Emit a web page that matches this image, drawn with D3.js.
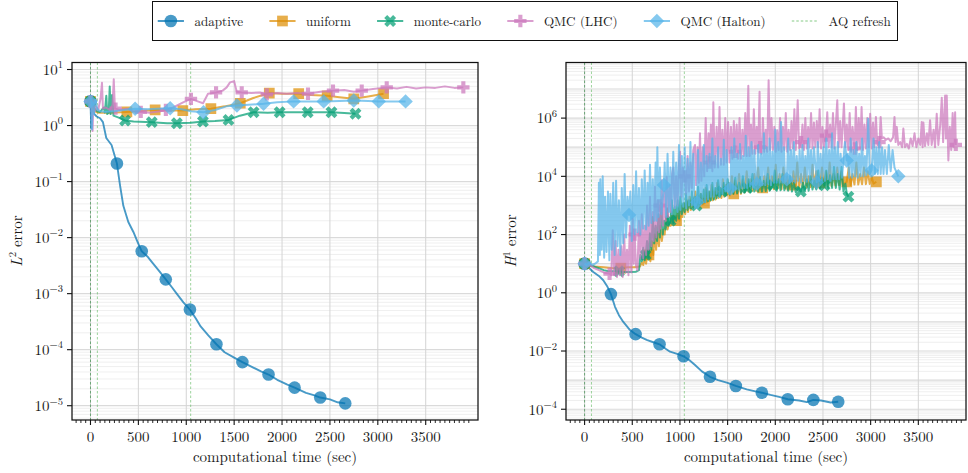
<!DOCTYPE html>
<html>
<head>
<meta charset="utf-8">
<script src="https://cdn.jsdelivr.net/npm/d3@7"></script>
<style>
  body { margin: 0; background: #fff; }
  svg { display: block; }
</style>
</head>
<body>
<svg id="chart" width="968" height="473"></svg>
<script>
// ---- categories ----
const methodNames = ["adaptive", "uniform", "monte-carlo", "QMC (LHC)", "QMC (Halton)"];
const refreshLabel = "AQ refresh";

// ---- tick labels ----
const timeTicks = [0, 500, 1000, 1500, 2000, 2500, 3000, 3500];
const l2TickExps = [-5, -4, -3, -2, -1, 0, 1];
const h1TickExps = [-4, -2, 0, 2, 4, 6];

// times (sec) at which the adaptive quadrature was refreshed
const refreshTimes = [0, 72, 1046];

// ---- adaptive ----
const adaptiveMarkTimes = [0, 276, 535, 786, 1038, 1315, 1586, 1859, 2131, 2399, 2660];
const adaptiveL2 = [[0,2.7],[8,0.9],[15,2.3],[40,1.6],[65,1.45],[100,1.35],[130,1.15],[165,0.6],[220,0.45],[276,0.21],[309,0.085],[343,0.037],[395,0.019],[448,0.0126],[490,0.0085],[535,0.0057],[600,0.0045],[650,0.0035],[720,0.0025],[786,0.0018],[850,0.0013],[900,0.001],[970,0.0007],[1038,0.00052],[1100,0.00036],[1150,0.00026],[1230,0.00018],[1315,0.000125],[1400,0.00009],[1500,0.000072],[1586,0.00006],[1700,0.000048],[1780,0.000041],[1859,0.000036],[1950,0.000029],[2050,0.000024],[2131,0.000021],[2250,0.000017],[2330,0.0000155],[2399,0.000014],[2500,0.000013],[2580,0.0000115],[2660,0.000011]];
const adaptiveH1 = [[0,10],[40,7.5],[91,5.2],[150,3.8],[196,2.7],[240,1.6],[276,0.9],[319,0.33],[360,0.17],[406,0.1],[470,0.055],[535,0.038],[600,0.029],[651,0.024],[720,0.02],[786,0.017],[850,0.012],[896,0.0095],[970,0.008],[1038,0.0066],[1100,0.0048],[1158,0.0033],[1230,0.002],[1315,0.0013],[1400,0.001],[1500,0.0008],[1586,0.00063],[1700,0.00048],[1780,0.00042],[1859,0.00037],[1950,0.00031],[2050,0.00026],[2131,0.00022],[2250,0.0002],[2330,0.000175],[2399,0.00021],[2480,0.0002],[2580,0.00017],[2660,0.00018]];

// ---- uniform ----
const uniformMarkTimes = [0, 380, 675, 964, 1257, 1564, 1867, 2174, 2471, 2749, 3060];
const uniformL2 = [[0,2.7],[10,3.2],[20,2.0],[30,2.9],[45,1.8],[60,1.75],[80,1.7],[200,1.7],[380,1.75],[500,1.8],[675,1.9],[800,1.85],[964,1.85],[1100,1.95],[1257,2.0],[1400,2.2],[1564,2.5],[1700,3.1],[1867,3.8],[2000,3.7],[2174,3.7],[2300,3.5],[2471,3.4],[2600,3.2],[2749,3.0],[2900,3.3],[3060,3.7]];
const uniformH1 = [[0,10],[40,9],[100,8],[200,7.5],[300,7],[380,7],[450,7.5],[520,7.5],[580,8],[600,11],[615,9],[630,15],[645,10],[660,25],[675,20],[690,12],[705,60],[720,20],[735,100],[750,30],[765,120],[780,40],[795,200],[810,60],[825,150],[840,100],[855,400],[870,150],[885,250],[900,200],[915,600],[930,250],[945,400],[964,300],[980,800],[995,300],[1010,1000],[1025,400],[1040,1200],[1055,500],[1070,1500],[1085,600],[1100,2000],[1115,700],[1130,1500],[1145,800],[1160,3000],[1175,900],[1190,2000],[1205,1000],[1220,2500],[1235,1100],[1257,1200],[1270,4000],[1285,1300],[1300,3000],[1315,1400],[1330,5000],[1345,1500],[1360,3000],[1375,1600],[1390,6000],[1405,1800],[1420,4000],[1435,1800],[1450,8000],[1465,2000],[1480,5000],[1495,2200],[1510,6000],[1525,2200],[1545,10000],[1564,2500],[1580,7000],[1600,2500],[1620,12000],[1640,2500],[1660,8000],[1680,2800],[1700,15000],[1720,3000],[1740,8000],[1760,3200],[1780,12000],[1800,3200],[1820,20000],[1840,3500],[1867,4000],[1885,10000],[1905,3500],[1925,20000],[1945,3500],[1965,10000],[1985,3600],[2005,25000],[2025,3800],[2045,12000],[2065,3600],[2085,20000],[2105,3800],[2125,10000],[2145,4000],[2174,5000],[2190,15000],[2210,4000],[2230,30000],[2250,4000],[2270,12000],[2290,4200],[2310,20000],[2330,4200],[2350,10000],[2370,4300],[2390,25000],[2410,4400],[2430,15000],[2450,4500],[2471,6000],[2490,20000],[2510,4500],[2530,15000],[2550,4600],[2570,30000],[2590,4700],[2610,12000],[2630,4800],[2650,20000],[2670,5000],[2690,15000],[2710,5000],[2749,6500],[2770,20000],[2790,5000],[2810,12000],[2830,5200],[2850,30000],[2870,5200],[2890,12000],[2910,5300],[2930,20000],[2950,5400],[2970,15000],[2990,5500],[3010,10000],[3030,5600],[3060,6500]];

// ---- monte-carlo ----
const mcMarkTimes = [0, 361, 640, 902, 1174, 1441, 1703, 1975, 2268, 2516, 2767];
const mcL2 = [[0,2.7],[20,2.4],[40,2.0],[70,1.8],[100,1.75],[140,2.1],[150,1.7],[165,3.4],[175,1.6],[190,1.7],[201,5.0],[210,1.6],[225,3.5],[240,1.5],[288,1.4],[361,1.23],[450,1.18],[640,1.15],[800,1.1],[902,1.1],[1050,1.12],[1174,1.18],[1300,1.2],[1441,1.26],[1560,1.5],[1703,1.73],[1850,1.7],[1975,1.73],[2100,1.72],[2268,1.73],[2400,1.72],[2516,1.73],[2650,1.68],[2767,1.62]];
const mcH1 = [[0,10],[50,9],[100,8],[150,7],[200,6],[250,5.5],[300,5.5],[361,5.5],[420,5.2],[480,5.2],[540,5.3],[570,6],[585,20],[600,12],[615,35],[630,13],[640,20],[655,60],[670,16],[685,110],[700,30],[715,400],[730,50],[745,200],[760,60],[775,500],[790,80],[805,1200],[820,100],[835,300],[850,150],[865,800],[880,200],[902,300],[915,1500],[930,250],[945,900],[960,300],[975,1500],[990,350],[1005,2000],[1020,500],[1035,1200],[1050,600],[1065,2500],[1080,700],[1095,1500],[1110,800],[1125,3000],[1140,900],[1155,2000],[1174,1000],[1190,4400],[1205,1100],[1220,2500],[1235,1200],[1250,3500],[1265,1300],[1280,5000],[1295,1400],[1310,3000],[1325,1500],[1340,6000],[1355,1600],[1370,4000],[1385,1800],[1400,7400],[1420,2000],[1441,3000],[1460,6000],[1480,2200],[1500,8000],[1520,2400],[1540,5000],[1560,2500],[1580,9000],[1600,2600],[1620,6000],[1640,2700],[1660,10000],[1680,2800],[1703,4000],[1720,8000],[1740,2800],[1760,12000],[1780,3000],[1800,6000],[1820,3000],[1840,9500],[1860,3000],[1880,7000],[1900,3100],[1920,12000],[1940,3200],[1975,5000],[1995,16000],[2015,3200],[2035,8000],[2055,3300],[2075,12000],[2095,3300],[2115,6000],[2135,3200],[2155,10000],[2175,3000],[2195,6000],[2215,2800],[2240,4000],[2268,3000],[2290,6000],[2310,3000],[2330,8000],[2350,3200],[2370,10000],[2390,3500],[2410,7000],[2430,3500],[2450,16000],[2470,3800],[2490,9000],[2516,4900],[2535,16000],[2555,4000],[2575,11000],[2595,4000],[2615,21000],[2635,4000],[2655,12000],[2675,3500],[2695,21000],[2715,3000],[2735,5600],[2750,2500],[2767,2000]];

// ---- QMC (LHC) ----
const lhcMarkTimes = [0, 262, 525, 787, 1049, 1311, 1579, 1841, 2271, 2532, 2832, 3093, 3893];
const lhcL2 = [[0,2.7],[12,2.0],[22,0.8],[30,2.5],[45,1.8],[60,2.2],[80,1.9],[105,3.0],[120,5.8],[130,2.0],[160,2.1],[200,1.9],[230,2.3],[243,6.7],[255,2.0],[262,2.0],[300,1.9],[380,2.0],[450,1.8],[525,1.75],[622,1.7],[727,1.8],[787,1.9],[863,2.1],[967,2.6],[1049,3.0],[1120,2.7],[1175,2.5],[1227,3.7],[1311,3.9],[1380,4.2],[1422,4.8],[1457,5.9],[1500,6.2],[1527,4.0],[1579,3.9],[1680,3.8],[1770,3.9],[1841,3.6],[1950,3.8],[2049,3.7],[2150,3.8],[2271,3.7],[2400,4.0],[2532,4.2],[2650,4.3],[2750,4.0],[2832,4.2],[2950,4.5],[3093,4.8],[3200,4.6],[3300,4.9],[3400,4.6],[3500,4.8],[3600,4.7],[3700,5.0],[3800,4.7],[3893,4.8]];
const lhcH1 = [[0,10],[30,8],[60,9],[100,7],[150,6],[200,5],[262,4.5],[280,4],[295,140],[310,4],[325,60],[340,3.5],[355,30],[370,4],[385,40],[400,3.5],[415,100],[430,5],[445,30],[460,4],[475,200],[490,5],[505,350],[515,10],[525,100],[540,8],[555,6],[570,300],[585,15],[600,500],[615,15],[630,200],[645,20],[655,1000],[670,30],[686,2000],[700,40],[715,600],[725,60],[738,4400],[752,80],[766,1500],[780,120],[787,1000],[795,160],[809,7400],[823,200],[837,3000],[850,300],[861,9500],[875,400],[890,5000],[905,600],[918,12000],[930,20000],[945,800],[960,10000],[975,1000],[990,30000],[1001,70000],[1015,2000],[1030,20000],[1049,10000],[1065,2500],[1080,50000],[1095,3000],[1110,30000],[1125,4000],[1140,80000],[1158,120000],[1170,5000],[1185,100000],[1198,6000],[1210,300000],[1225,7000],[1240,100000],[1255,10000],[1270,1e6],[1285,15000],[1300,300000],[1311,30000],[1325,600000],[1340,15000],[1350,3.5e6],[1365,20000],[1385,500000],[1400,20000],[1415,2.4e6],[1430,25000],[1445,400000],[1460,25000],[1475,1e6],[1490,30000],[1505,740000],[1520,30000],[1535,500000],[1550,40000],[1565,800000],[1579,70000],[1595,600000],[1610,40000],[1625,1e6],[1640,40000],[1655,400000],[1670,50000],[1685,1.5e6],[1700,50000],[1717,1.3e7],[1730,50000],[1745,600000],[1760,60000],[1775,2e6],[1790,60000],[1805,500000],[1820,70000],[1835,8e6],[1841,100000],[1855,60000],[1870,1e6],[1885,70000],[1900,400000],[1915,70000],[1930,2e7],[1945,80000],[1960,1e6],[1975,80000],[1990,500000],[2005,70000],[2020,380000],[2035,80000],[2050,1e6],[2065,70000],[2080,500000],[2095,80000],[2110,1.5e6],[2125,70000],[2140,400000],[2155,80000],[2170,800000],[2185,90000],[2200,2e6],[2215,80000],[2235,4.1e6],[2250,90000],[2271,150000],[2285,600000],[2300,80000],[2315,1e6],[2330,90000],[2345,500000],[2360,100000],[2375,1.5e6],[2390,90000],[2405,700000],[2420,100000],[2435,800000],[2450,100000],[2465,2e6],[2480,90000],[2495,500000],[2510,100000],[2532,250000],[2545,1.6e6],[2560,100000],[2575,600000],[2590,100000],[2605,1.5e6],[2620,90000],[2650,4.1e6],[2665,100000],[2680,800000],[2695,100000],[2720,3.2e6],[2735,100000],[2750,600000],[2765,80000],[2780,1.5e6],[2795,70000],[2810,500000],[2832,90000],[2845,2.4e6],[2860,80000],[2875,1e6],[2890,90000],[2905,2.4e6],[2920,80000],[2935,600000],[2950,90000],[2965,1e6],[2980,100000],[2995,1.4e6],[3010,90000],[3025,700000],[3040,100000],[3055,1.1e6],[3070,120000],[3093,150000],[3105,1.1e6],[3118,200000],[3135,220000],[3160,180000],[3185,200000],[3210,160000],[3235,220000],[3250,1.1e6],[3262,150000],[3274,500000],[3290,120000],[3310,150000],[3330,100000],[3343,440000],[3360,100000],[3380,130000],[3400,90000],[3420,200000],[3440,110000],[3460,300000],[3480,100000],[3500,200000],[3520,120000],[3536,740000],[3545,100000],[3553,700000],[3570,110000],[3590,300000],[3605,120000],[3623,850000],[3640,120000],[3660,400000],[3675,100000],[3693,1.4e6],[3710,120000],[3730,600000],[3746,5e6],[3760,150000],[3781,6e6],[3790,200000],[3798,6e6],[3815,35000],[3830,500000],[3845,80000],[3860,1.5e6],[3868,100000],[3886,1.6e6],[3893,120000]];

// ---- QMC (Halton) ----
const haltonMarkTimes = [0, 466, 832, 1180, 1529, 1807, 2121, 2435, 2749, 3010, 3290];
const haltonL2 = [[0,2.7],[8,3.0],[15,0.85],[22,2.6],[35,1.6],[50,2.9],[70,2.0],[100,1.8],[150,1.75],[250,1.8],[350,1.9],[466,2.0],[600,1.95],[700,2.0],[832,2.03],[950,1.95],[1050,1.8],[1180,1.73],[1300,1.9],[1420,2.2],[1529,2.27],[1650,2.35],[1807,2.44],[1950,2.6],[2121,2.7],[2300,2.7],[2435,2.7],[2600,2.75],[2749,2.8],[2900,2.75],[3010,2.7],[3150,2.7],[3290,2.7]];
const haltonH1 = [[0,10],[20,9],[50,11],[80,9],[110,10],[140,12],[150,6000],[160,20],[165,8000],[180,30],[190,10000],[205,16],[215,2000],[230,25],[245,3000],[260,13],[270,2500],[285,30],[300,6000],[315,20],[330,7000],[345,40],[360,1500],[375,20],[390,4000],[405,50],[420,12000],[435,80],[450,2000],[466,470],[480,3000],[495,60],[510,5000],[525,100],[540,15000],[555,120],[570,4000],[585,100],[600,8000],[615,160],[630,16000],[645,150],[660,6000],[672,200],[686,25000],[700,250],[715,8000],[730,300],[745,30000],[755,300],[763,100000],[775,400],[790,20000],[805,500],[832,5000],[840,30000],[855,400],[870,60000],[885,600],[900,20000],[915,500],[930,70000],[945,800],[960,30000],[975,600],[990,120000],[1005,700],[1020,50000],[1035,900],[1050,100000],[1065,800],[1080,40000],[1095,1000],[1110,150000],[1125,1000],[1140,60000],[1155,800],[1180,1300],[1190,80000],[1205,1200],[1220,30000],[1235,1500],[1250,120000],[1265,1300],[1280,50000],[1295,1600],[1310,60000],[1325,2000],[1340,200000],[1355,2000],[1370,50000],[1385,2500],[1400,100000],[1415,2000],[1430,40000],[1445,2500],[1460,180000],[1475,3000],[1490,80000],[1505,3000],[1529,3800],[1540,100000],[1555,3000],[1570,200000],[1585,3500],[1600,60000],[1615,3500],[1630,130000],[1645,4000],[1660,50000],[1675,4000],[1690,250000],[1705,4000],[1720,100000],[1735,4500],[1750,150000],[1765,4000],[1780,80000],[1795,5000],[1807,5600],[1820,120000],[1835,5000],[1850,60000],[1865,5000],[1880,300000],[1895,5000],[1910,100000],[1925,5500],[1940,200000],[1955,5000],[1970,70000],[1985,6000],[2000,400000],[2015,6000],[2030,150000],[2045,6000],[2060,740000],[2075,6000],[2090,100000],[2105,6500],[2121,8000],[2135,200000],[2150,6000],[2165,80000],[2180,6500],[2195,150000],[2210,6000],[2225,50000],[2240,7000],[2255,80000],[2270,6000],[2285,120000],[2300,7000],[2315,50000],[2330,6500],[2345,200000],[2360,7000],[2375,80000],[2390,7000],[2405,100000],[2435,6300],[2445,150000],[2460,7000],[2475,60000],[2490,7500],[2505,100000],[2520,7000],[2535,200000],[2550,8000],[2565,80000],[2580,7000],[2595,300000],[2610,8000],[2625,100000],[2640,8000],[2655,150000],[2670,8000],[2685,60000],[2700,9000],[2730,150000],[2749,35000],[2760,60000],[2775,9000],[2790,200000],[2805,9000],[2820,80000],[2835,10000],[2850,150000],[2865,9000],[2880,60000],[2895,10000],[2910,200000],[2925,10000],[2940,50000],[2955,11000],[2975,950000],[2990,12000],[3010,16000],[3030,200000],[3045,12000],[3060,100000],[3075,12000],[3090,150000],[3105,12000],[3120,100000],[3135,12000],[3150,80000],[3170,12000],[3190,120000],[3210,15000],[3230,80000],[3250,20000],[3290,10000]];

// ---- styling per method ----
const methodColors = ["#0173b2", "#de8f05", "#029e73", "#cc78bc", "#56b4e9"];
const methodSymbols = ["circle", "square", "x", "plus", "diamond"];
const refreshColor = "#5cb85c";
const FONT = "'Latin Modern Roman', 'Liberation Serif', serif";

const methods = methodNames.map((name, i) => ({
  name,
  color: methodColors[i],
  symbol: methodSymbols[i],
  l2: [adaptiveL2, uniformL2, mcL2, lhcL2, haltonL2][i],
  h1: [adaptiveH1, uniformH1, mcH1, lhcH1, haltonH1][i],
  marks: [adaptiveMarkTimes, uniformMarkTimes, mcMarkTimes, lhcMarkTimes, haltonMarkTimes][i]
}));

const svg = d3.select("#chart");
const plotTop = 62.5, plotBottom = 420;
const ALPHA = 0.72;

function addText(parent) {
  return parent.append("text").style("font-family", FONT).attr("fill", "#1a1a1a");
}

function symbolPath(kind) {
  if (kind === "circle") return { d: d3.symbol(d3.symbolCircle, 125)(), rot: 0 };
  if (kind === "square") return { d: d3.symbol(d3.symbolSquare, 115)(), rot: 0 };
  if (kind === "x") return { d: d3.symbol(d3.symbolCross, 88)(), rot: 45 };
  if (kind === "plus") return { d: d3.symbol(d3.symbolCross, 85)(), rot: 0 };
  return { d: d3.symbol(d3.symbolSquare, 105)(), rot: 45 };
}

function supLabel(sel, exp, size) {
  sel.append("tspan").text("10");
  sel.append("tspan")
    .attr("dy", -6.5)
    .attr("font-size", size)
    .text(exp < 0 ? "\u2212" + (-exp) : String(exp));
}

const panels = [
  { id: "l2", left: 72, right: 478, xDomain: [-193, 4046], yDomain: [5.56e-6, 13.34],
    tickExps: l2TickExps, field: "l2", letter: "L", sup: "2", labelX: 22, titleX: 275 },
  { id: "h1", left: 566, right: 966, xDomain: [-195, 4000], yDomain: [4.27e-5, 8.13e7],
    tickExps: h1TickExps, field: "h1", letter: "H", sup: "1", labelX: 516, titleX: 766 }
];

panels.forEach(p => {
  const x = d3.scaleLinear().domain(p.xDomain).range([p.left, p.right]);
  const y = d3.scaleLog().domain(p.yDomain).range([plotBottom, plotTop]);
  const g = svg.append("g");

  g.append("clipPath").attr("id", "clip-" + p.id)
    .append("rect").attr("x", p.left).attr("y", plotTop)
    .attr("width", p.right - p.left).attr("height", plotBottom - plotTop);

  // horizontal grid: faint lines at k*10^n, stronger at each decade
  const lo = Math.floor(Math.log10(p.yDomain[0])), hi = Math.ceil(Math.log10(p.yDomain[1]));
  const minor = [], major = [];
  for (let n = lo; n <= hi; n++) {
    for (let k = 1; k <= 9; k++) {
      const v = k * Math.pow(10, n);
      if (v < p.yDomain[0] || v > p.yDomain[1]) continue;
      (k === 1 ? major : minor).push(v);
    }
  }
  g.selectAll(".hminor").data(minor).enter().append("line")
    .attr("x1", p.left).attr("x2", p.right)
    .attr("y1", d => y(d)).attr("y2", d => y(d))
    .attr("stroke", "#ebebeb").attr("stroke-width", 0.8);
  g.selectAll(".hmajor").data(major).enter().append("line")
    .attr("x1", p.left).attr("x2", p.right)
    .attr("y1", d => y(d)).attr("y2", d => y(d))
    .attr("stroke", "#dadada").attr("stroke-width", 1.2);

  // vertical grid
  g.selectAll(".vgrid").data(timeTicks).enter().append("line")
    .attr("x1", d => x(d)).attr("x2", d => x(d))
    .attr("y1", plotTop).attr("y2", plotBottom)
    .attr("stroke", "#d4d4d4").attr("stroke-width", 1);

  // refresh markers
  g.selectAll(".refresh").data(refreshTimes).enter().append("line")
    .attr("x1", d => x(d)).attr("x2", d => x(d))
    .attr("y1", plotTop).attr("y2", plotBottom)
    .attr("stroke", (d, i) => i === 0 ? "#5e9e6a" : refreshColor)
    .attr("stroke-opacity", (d, i) => i === 0 ? 0.9 : 0.6)
    .attr("stroke-width", 1)
    .attr("stroke-dasharray", "2.5,2");

  const plot = g.append("g").attr("clip-path", "url(#clip-" + p.id + ")");
  const line = d3.line().x(d => x(d[0])).y(d => y(d[1]));

  methods.forEach(m => {
    const data = m[p.field];
    plot.append("path").datum(data)
      .attr("d", line)
      .attr("fill", "none")
      .attr("stroke", m.color)
      .attr("stroke-opacity", ALPHA)
      .attr("stroke-width", m.name === "adaptive" ? 1.9 : 2)
      .attr("stroke-linejoin", "round");
    const sym = symbolPath(m.symbol);
    const pts = m.marks.map(t => data.find(d => d[0] === t)).filter(Boolean);
    plot.selectAll(null).data(pts).enter().append("path")
      .attr("d", sym.d)
      .attr("transform", d => `translate(${x(d[0])},${y(d[1])}) rotate(${sym.rot})`)
      .attr("fill", m.color)
      .attr("fill-opacity", ALPHA);
  });

  // frame
  g.append("rect").attr("x", p.left).attr("y", plotTop)
    .attr("width", p.right - p.left).attr("height", plotBottom - plotTop)
    .attr("fill", "none").attr("stroke", "#111").attr("stroke-width", 1.25);

  // x ticks: major every 500, minor every 50
  const minorX = d3.range(Math.ceil(p.xDomain[0] / 50) * 50, p.xDomain[1], 50)
    .filter(v => v % 500 !== 0);
  g.selectAll(".xminor").data(minorX).enter().append("line")
    .attr("x1", d => x(d)).attr("x2", d => x(d))
    .attr("y1", plotBottom).attr("y2", plotBottom + 3)
    .attr("stroke", "#111").attr("stroke-width", 0.9);
  g.selectAll(".xmajor").data(timeTicks).enter().append("line")
    .attr("x1", d => x(d)).attr("x2", d => x(d))
    .attr("y1", plotBottom).attr("y2", plotBottom + 5)
    .attr("stroke", "#111").attr("stroke-width", 1.1);
  timeTicks.forEach(v => {
    addText(g).attr("x", x(v)).attr("y", 442)
      .attr("text-anchor", "middle").attr("font-size", 15)
      .text(v);
  });

  // y ticks
  g.selectAll(".ymajor").data(p.tickExps).enter().append("line")
    .attr("x1", p.left - 5).attr("x2", p.left)
    .attr("y1", d => y(Math.pow(10, d))).attr("y2", d => y(Math.pow(10, d)))
    .attr("stroke", "#111").attr("stroke-width", 1.1);
  p.tickExps.forEach(e => {
    const t = addText(g)
      .attr("x", p.left - 9).attr("y", y(Math.pow(10, e)) + 5.3)
      .attr("text-anchor", "end").attr("font-size", 15);
    supLabel(t, e, 10.5);
  });

  // axis titles
  addText(g).attr("x", p.titleX).attr("y", 462)
    .attr("text-anchor", "middle").attr("font-size", 15)
    .text("computational time (sec)");
  const yl = addText(g)
    .attr("transform", `translate(${p.labelX},241) rotate(-90)`)
    .attr("text-anchor", "middle").attr("font-size", 15);
  yl.append("tspan").attr("font-style", "italic").text(p.letter);
  yl.append("tspan").attr("dy", -6).attr("font-size", 10.5).text(p.sup);
  yl.append("tspan").attr("dy", 6).text(" error");
});

// legend: one row, handle (2em) + pad (0.8em) + label, 2em between entries
const LEG_FS = 13.1;
const legend = svg.append("g");
legend.append("rect").attr("x", 152.5).attr("y", 1.5).attr("width", 745).attr("height", 39)
  .attr("fill", "#fff").attr("stroke", "#111").attr("stroke-width", 1);
const legendY = 21;
const entries = methods.map(m => ({ label: m.name, method: m }))
  .concat([{ label: refreshLabel, method: null }]);
let cursor = 152.5 + 0.4 * LEG_FS;
entries.forEach(en => {
  const hx = cursor, hw = 2 * LEG_FS;
  if (en.method) {
    const m = en.method;
    legend.append("line")
      .attr("x1", hx).attr("x2", hx + hw)
      .attr("y1", legendY).attr("y2", legendY)
      .attr("stroke", m.color).attr("stroke-opacity", ALPHA).attr("stroke-width", 2);
    const sym = symbolPath(m.symbol);
    legend.append("path").attr("d", sym.d)
      .attr("transform", `translate(${hx + hw / 2},${legendY}) rotate(${sym.rot})`)
      .attr("fill", m.color).attr("fill-opacity", ALPHA);
  } else {
    legend.append("line")
      .attr("x1", hx).attr("x2", hx + hw)
      .attr("y1", legendY).attr("y2", legendY)
      .attr("stroke", refreshColor).attr("stroke-opacity", 0.75)
      .attr("stroke-width", 1).attr("stroke-dasharray", "2.5,2");
  }
  const t = addText(legend).attr("x", hx + hw + 0.8 * LEG_FS).attr("y", legendY + 4.6)
    .attr("font-size", LEG_FS).text(en.label);
  cursor = hx + hw + 0.8 * LEG_FS + t.node().getComputedTextLength() + 2 * LEG_FS;
});
</script>
</body>
</html>
